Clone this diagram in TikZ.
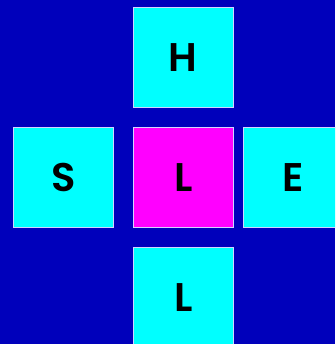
\documentclass[tikz,border=0pt]{standalone}
\usepackage{fontspec}
\newfontfamily\lbl{Poppins SemiBold}
\definecolor{bgblue}{RGB}{0,0,187}
\definecolor{cyanbox}{RGB}{0,255,255}
\definecolor{magbox}{RGB}{255,0,255}
\definecolor{edge}{RGB}{210,210,255}
\begin{document}
\begin{tikzpicture}[x=1pt,y=-1pt,
  tile/.style={draw=edge,line width=1pt,fill=cyanbox,minimum width=100pt,minimum height=100pt,inner sep=0pt,
    font=\lbl\fontsize{40}{40}\selectfont,text=black},
  centre/.style={tile,fill=magbox}]
\useasboundingbox (0,0) rectangle (335,344);
\clip (0,0) rectangle (335,344);
\fill[bgblue] (0,0) rectangle (335,344);
\node[tile] (h) at (183.2,57.2) {H};
\node[tile] (s) at (63.2,177.2) {S};
\node[centre] (c) at (183.2,177.2) {L};
\node[tile] (e) at (293.2,177.2) {E};
\node[tile] (b) at (183.2,297.2) {L};
\end{tikzpicture}
\end{document}
